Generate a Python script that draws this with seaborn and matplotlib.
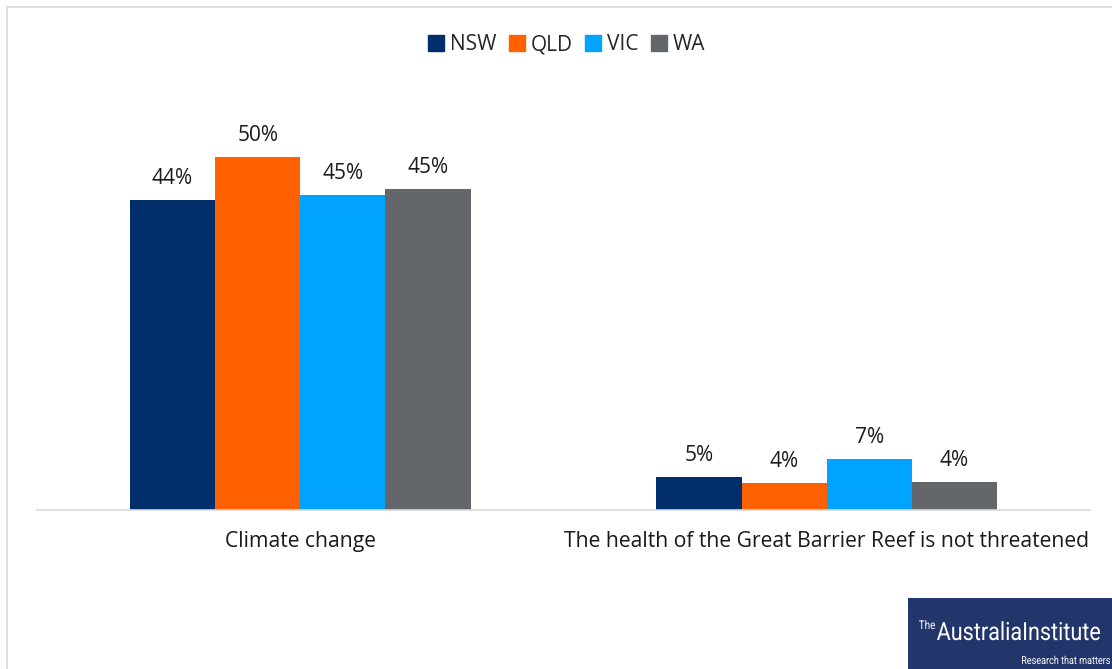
import matplotlib
matplotlib.use("Agg")
import matplotlib.pyplot as plt
import seaborn as sns
import pandas as pd
from matplotlib.lines import Line2D
from matplotlib.patches import Rectangle, PathPatch
from matplotlib.textpath import TextPath
from matplotlib.font_manager import FontProperties
from matplotlib.transforms import Affine2D

categories = ["Climate change", "The health of the Great Barrier Reef is not threatened"]
states = ["NSW", "QLD", "VIC", "WA"]
nsw = [43.9, 4.7]
qld = [50.0, 3.8]
vic = [44.6, 7.2]
wa = [45.4, 4.0]
colors = ["#002f6c", "#ff6000", "#00a3ff", "#63666a"]

rows = []
for state, vals in zip(states, [nsw, qld, vic, wa]):
    for cat, v in zip(categories, vals):
        rows.append({"category": cat, "state": state, "value": v})
df = pd.DataFrame(rows)

sns.set_theme(style="white")
plt.rcParams["font.family"] = ["Open Sans", "DejaVu Sans"]

W, H = 1112, 669
fig = plt.figure(figsize=(W / 100, H / 100), dpi=100)
ax = fig.add_axes([37 / W, 159 / H, 1053 / W, 423.6 / H])

sns.barplot(data=df, x="category", y="value", hue="state", order=categories,
            hue_order=states, palette=colors, width=0.647, gap=0, linewidth=0,
            saturation=1, ax=ax, legend=False)

ax.set_ylim(0, 60)
ax.set_xlim(-0.5, 1.5)
ax.set_xlabel("")
ax.set_ylabel("")
ax.set_yticks([])
for s in ["top", "right", "left"]:
    ax.spines[s].set_visible(False)
ax.spines["bottom"].set_color("#d9d9d9")
ax.spines["bottom"].set_linewidth(1.2)
ax.tick_params(axis="x", length=0, pad=15, labelsize=15.2, labelcolor="#1a1a1a")

# value labels
for container in ax.containers:
    ax.bar_label(container, labels=[f"{b.get_height():.0f}%" for b in container],
                 padding=8, fontsize=15, color="#1a1a1a")

# legend
handles = [Line2D([], [], marker="s", linestyle="", markersize=11, color=c) for c in colors]
fig.legend(handles, states, loc="center", bbox_to_anchor=(566 / W, 1 - 45 / H),
           ncol=4, frameon=False, fontsize=15, handletextpad=0.2, columnspacing=0.55,
           handlelength=0.9)

# light frame
fig.add_artist(Line2D([7 / W, 7 / W], [0, 1 - 7 / H], color="#d9d9d9", lw=1.2,
                      transform=fig.transFigure))
fig.add_artist(Line2D([7 / W, 1], [1 - 7 / H, 1 - 7 / H], color="#d9d9d9", lw=1.2,
                      transform=fig.transFigure))


def narrow_text(s, x0, x1, y_base, size, weight="normal"):
    # squeeze text horizontally so it fits between x0 and x1 (pixels from left)
    tp = TextPath((0, 0), s, size=size, prop=FontProperties(family="Roboto", weight=weight))
    ext = tp.get_extents()
    sx = (x1 - x0) / ext.width
    tr = (Affine2D().translate(-ext.x0, 0).scale(sx, 1).translate(x0, H - y_base)
          .scale(1 / W, 1 / H) + fig.transFigure)
    fig.add_artist(PathPatch(tp, transform=tr, facecolor="white", edgecolor="none"))


# logo
fig.add_artist(Rectangle((908 / W, 0), 204 / W, 71 / H, transform=fig.transFigure,
                         facecolor="#22366b", edgecolor="none"))
narrow_text("The", 919, 935, 629, 12)
narrow_text("AustraliaInstitute", 937, 1100, 640, 25)
narrow_text("Research that matters", 1022, 1110, 664, 11)

fig.savefig("out.png", dpi=100, facecolor="white")
